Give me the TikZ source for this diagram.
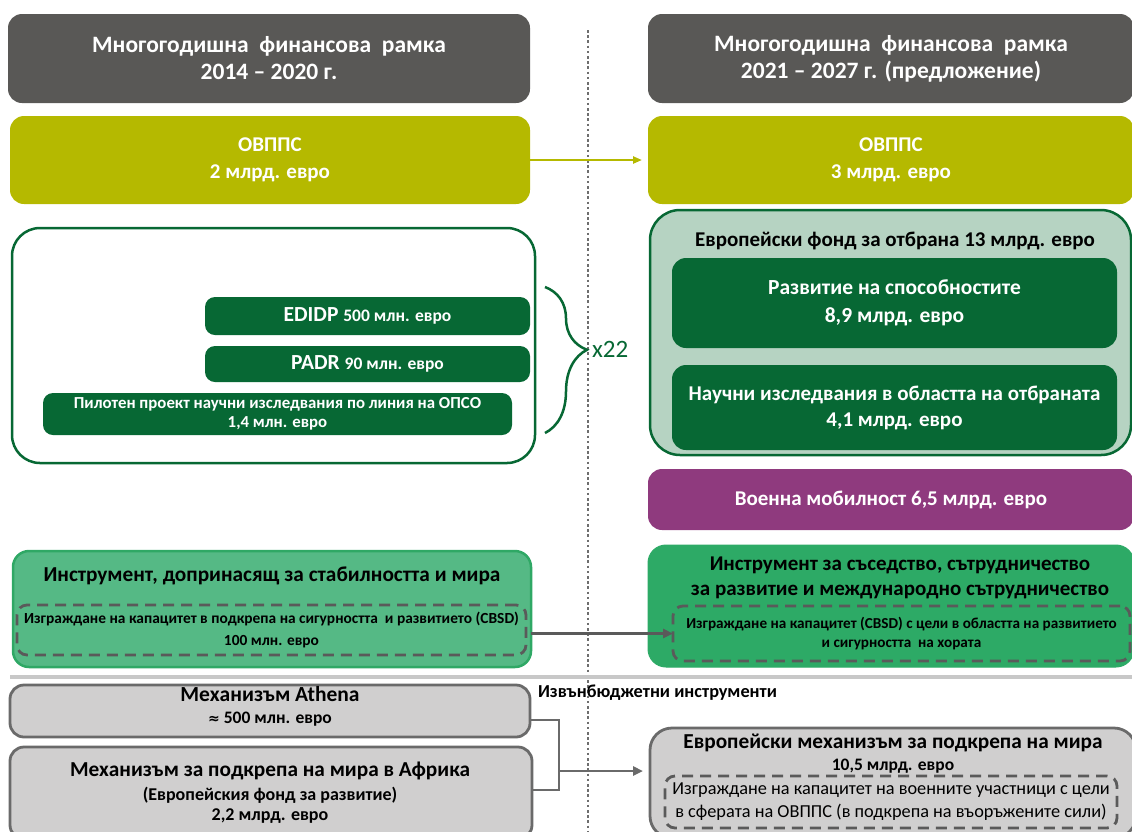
\documentclass[tikz,border=0pt]{standalone}
\usepackage{fontspec}
\setmainfont{Carlito}
\newfontfamily\dejavu{DejaVu Sans}
\usetikzlibrary{arrows.meta,decorations.pathreplacing}
\definecolor{titlegray}{HTML}{595856}
\definecolor{olivec}{HTML}{B5B900}
\definecolor{dgreen}{HTML}{076834}
\definecolor{edffill}{HTML}{B6D3C2}
\definecolor{purplec}{HTML}{8F3A7E}
\definecolor{insfillL}{HTML}{55B985}
\definecolor{insborderL}{HTML}{2FA865}
\definecolor{insfillR}{HTML}{2DAA66}
\definecolor{dashgray}{HTML}{5A5A5A}
\definecolor{boxgray}{HTML}{D0CFCF}
\definecolor{bordergray}{HTML}{6A6A6A}
\definecolor{dividergray}{HTML}{C8C8C8}
\definecolor{dotgray}{HTML}{6E6E6E}
\newcommand{\fs}[2]{\fontsize{#1}{#2}\selectfont}
\tikzset{
  box/.style={rounded corners=14pt, inner sep=0pt, outer sep=0pt, align=center},
  titlebox/.style={box, fill=titlegray, text=white, font=\fs{23.5}{27}\bfseries},
  olivebox/.style={box, fill=olivec, text=white, font=\fs{21}{27}\bfseries},
  greenbox/.style={box, rounded corners=10pt, fill=dgreen, text=white},
  dashbox/.style={rounded corners=10pt, draw=dashgray, line width=2.8pt, dash pattern=on 11pt off 7pt, inner sep=0pt, outer sep=0pt, align=center},
  graybox/.style={box, fill=boxgray, draw=bordergray, line width=2.8pt},
  lbl/.style={inner sep=0pt, outer sep=0pt, align=center},
}
\begin{document}
\begin{tikzpicture}[x=1pt,y=-1pt]
\useasboundingbox (0,0) rectangle (1132,831);

% vertical dotted separator
\draw[dotgray, line width=2.6pt, dash pattern=on 2.6pt off 2.6pt] (588,30) -- (588,831);

% titles
\node[titlebox, minimum width=522pt, minimum height=89pt] (tl) at (269,58.5)
  {Многогодишна\ \ финансова\ \ рамка\\2014 – 2020 г.};
\node[titlebox, minimum width=486pt, minimum height=89pt] (tr) at (891,58.5)
  {Многогодишна\ \ финансова\ \ рамка\\2021 – 2027 г. (предложение)};

% OVPPS
\node[olivebox, minimum width=520pt, minimum height=88pt] (ovl) at (270,160)
  {ОВППС\\2 млрд. евро};
\node[olivebox, minimum width=486pt, minimum height=88pt] (ovr) at (891,160)
  {ОВППС\\3 млрд. евро};
\draw[olivec, line width=2.2pt, -{Triangle[length=9pt,width=7pt]}, shorten >=6pt] (ovl.east) -- (ovr.west);

% left white box
\node[box, rounded corners=28pt, draw=dgreen, line width=2.5pt, fill=white,
      minimum width=523pt, minimum height=235pt] (wbox) at (273.5,345.5) {};
\node[greenbox, minimum width=325pt, minimum height=38pt] (edidp) at (367.5,316)
  {\fs{21.5}{22}\bfseries EDIDP \fs{17.5}{22}\bfseries 500 млн. евро};
\node[greenbox, minimum width=325pt, minimum height=36pt] (padr) at (367.5,364)
  {\fs{21.5}{22}\bfseries PADR \fs{17.5}{22}\bfseries 90 млн. евро};
\node[greenbox, minimum width=469pt, minimum height=42pt, font=\fs{16.8}{19}\bfseries] (pilot) at (277.5,414)
  {Пилотен проект научни изследвания по линия на ОПСО\\1,4 млн. евро};

% brace and x22
\draw[dgreen, line width=2.5pt, decorate, decoration={brace, amplitude=42pt, aspect=0.43}]
  (545,287) -- (545,433);
\node[lbl, text=dgreen, font=\fs{25}{25}, anchor=west] (x22) at (592,349) {x22};

% European Defence Fund
\node[box, rounded corners=30pt, draw=dgreen, line width=2.5pt, fill=edffill,
      minimum width=481pt, minimum height=245pt] (edf) at (890.5,332.5) {};
\node[lbl, font=\fs{21}{22}\bfseries] (edft) at (895,241) {Европейски фонд за отбрана 13 млрд. евро};
\node[greenbox, rounded corners=14pt, minimum width=445pt, minimum height=90pt, font=\fs{21.5}{28}\bfseries] (razv) at (894.5,303)
  {Развитие на способностите\\8,9 млрд. евро};
\node[greenbox, rounded corners=14pt, minimum width=445pt, minimum height=85pt, font=\fs{21}{26}\bfseries] (nauch) at (894.5,407.5)
  {Научни изследвания в областта на отбраната\\4,1 млрд. евро};

% military mobility
\node[box, fill=purplec, text=white, font=\fs{21}{22}\bfseries, minimum width=486pt, minimum height=61pt] (voen) at (891,499.5)
  {Военна мобилност 6,5 млрд. евро};

% Instrument left
\node[box, rounded corners=16pt, fill=insfillL, draw=insborderL, line width=2.5pt,
      minimum width=518pt, minimum height=116pt] (insl) at (272,609) {};
\node[lbl, font=\fs{21.3}{22}\bfseries] (inslt) at (272,576) {Инструмент, допринасящ за стабилността и мира};
\node[dashbox, minimum width=509pt, minimum height=50pt, font=\fs{15.4}{22}\bfseries] (cbl) at (271.5,630)
  {Изграждане на капацитет в подкрепа на сигурността\ \ и развитието (CBSD)\\100 млн. евро};

% Instrument right
\node[box, rounded corners=18pt, fill=insfillR, draw=insfillR, line width=1pt,
      minimum width=486pt, minimum height=122pt] (insr) at (891,606) {};
\node[lbl, font=\fs{21}{25}\bfseries] (insrt) at (900,578)
  {Инструмент за съседство, сътрудничество\\за развитие и международно сътрудничество};
\node[dashbox, minimum width=457pt, minimum height=55pt, font=\fs{15.2}{19}\bfseries] (cbr) at (901.5,633.5)
  {Изграждане на капацитет (CBSD) с цели в областта на развитието\\и сигурността\ \ на хората};
\draw[dashgray, line width=2.8pt, -{Triangle[length=10pt,width=9pt]}] (insl.east |- cbr.west) -- (cbr.west);

% divider
\draw[dividergray, line width=4pt] (10,677) -- (1132,677);

% off-budget instruments
\node[graybox, minimum width=520pt, minimum height=52pt] (ath) at (270,711) {};
\node[lbl, font=\fs{21.5}{22}\bfseries] (atht) at (270,694) {Механизъм Athena};
\node[lbl, font=\fs{17.5}{18}\bfseries] (aths) at (270,719) {{\dejavu\fs{14}{18}≈} 500 млн. евро};

\node[graybox, minimum width=522pt, minimum height=92pt] (afr) at (271,793) {};
\node[lbl, font=\fs{21.3}{22}\bfseries] (afrt) at (270,771) {Механизъм за подкрепа на мира в Африка};
\node[lbl, font=\fs{18}{19.5}\bfseries] (afrs) at (270,805.5) {(Европейския фонд за развитие)\\2,2 млрд. евро};

\node[lbl, font=\fs{18.3}{18}\bfseries, anchor=west] (extra) at (538,693) {Извънбюджетни инструменти};

\node[graybox, rounded corners=22pt, minimum width=486pt, minimum height=110pt] (epf) at (893,783) {};
\node[lbl, font=\fs{21.3}{23}\bfseries] (epft) at (893,743) {Европейски механизъм за подкрепа на мира};
\node[lbl, font=\fs{17.5}{23}\bfseries] (epfa) at (893,766) {10,5 млрд. евро};
\node[dashbox, minimum width=452pt, minimum height=52pt, font=\fs{18.3}{23}] (cbe) at (891,802)
  {Изграждане на капацитет на военните участници с цели\\в сферата на ОВППС (в подкрепа на въоръжените сили)};

\coordinate (j) at (559,771);
\draw[bordergray, line width=2.8pt] (ath.east |- 0,720) -| (j);
\draw[bordergray, line width=2.8pt] (afr.east |- 0,790) -| (j);
\draw[bordergray, line width=2.8pt, -{Triangle[length=10pt,width=9pt]}, shorten >=7pt] (j) -- (epf.west |- j);
\end{tikzpicture}
\end{document}
